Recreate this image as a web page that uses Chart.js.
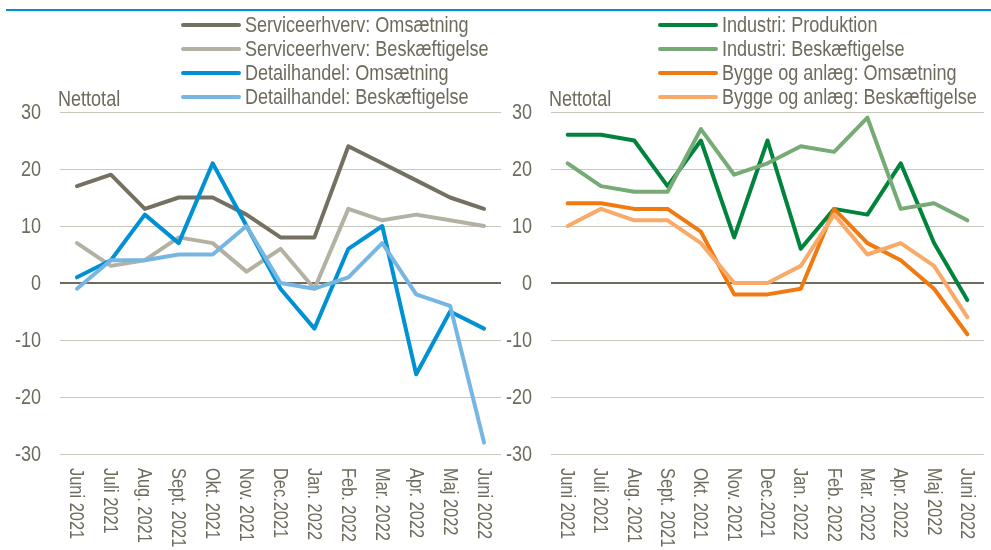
<!DOCTYPE html>
<html>
<head>
<meta charset="utf-8">
<script src="https://cdn.jsdelivr.net/npm/chart.js@4"></script>
<style>
  body { margin: 0; background: #fff; }
  #wrap { position: relative; width: 991px; height: 550px; overflow: hidden; }
  #topline { position: absolute; left: 6px; top: 9px; width: 985px; height: 2px; background: #0091d4; }
  #left { position: absolute; left: 0; top: 0; }
  #right { position: absolute; left: 505px; top: 0; }
</style>
</head>
<body>
<div id="wrap">
  <div id="topline"></div>
  <canvas id="left" width="505" height="550"></canvas>
  <canvas id="right" width="486" height="550"></canvas>
</div>
<script>
const months = ['Juni 2021', 'Juli 2021', 'Aug. 2021', 'Sept. 2021', 'Okt. 2021', 'Nov. 2021', 'Dec.2021',
  'Jan. 2022', 'Feb. 2022', 'Mar. 2022', 'Apr. 2022', 'Maj 2022', 'Juni 2022'];

const serviceOms = [17, 19, 13, 15, 15, 12, 8, 8, 24, 21, 18, 15, 13];
const serviceBesk = [7, 3, 4, 8, 7, 2, 6, -1, 13, 11, 12, 11, 10];
const detailOms = [1, 4, 12, 7, 21, 10, -1, -8, 6, 10, -16, -5, -8];
const detailBesk = [-1, 4, 4, 5, 5, 10, 0, -1, 1, 7, -2, -4, -28];

const industriProd = [26, 26, 25, 17, 25, 8, 25, 6, 13, 12, 21, 7, -3];
const industriBesk = [21, 17, 16, 16, 27, 19, 21, 24, 23, 29, 13, 14, 11];
const byggeOms = [14, 14, 13, 13, 9, -2, -2, -1, 13, 7, 4, -1, -9];
const byggeBesk = [10, 13, 11, 11, 7, 0, 0, 3, 12, 5, 7, 3, -6];

const yTicks = [-30, -20, -10, 0, 10, 20, 30];

const fontFam = '"Liberation Sans", Arial, sans-serif';
const textCol = '#6e6b5c';
const narrow = 0.82; // squeeze to look like Arial Narrow

function line(label, data, color, order) {
  return {
    label: label, data: data, borderColor: color, backgroundColor: color, order: order,
    borderWidth: 4, pointRadius: 0, tension: 0, borderJoinStyle: 'round', borderCapStyle: 'round'
  };
}

function txt(ctx, s, x, y, align, rot) {
  ctx.save();
  ctx.translate(x, y);
  if (rot) ctx.rotate(rot);
  ctx.scale(narrow, 1);
  ctx.textAlign = align;
  ctx.fillText(s, 0, 0);
  ctx.restore();
}

// legend, "Nettotal", y tick labels and rotated month labels
const extras = {
  id: 'extras',
  afterDraw(chart, args, opts) {
    const ctx = chart.ctx;
    const xs = chart.scales.x, ys = chart.scales.y;
    ctx.save();
    ctx.fillStyle = textCol;

    ctx.font = '20px ' + fontFam;
    ctx.textBaseline = 'middle';
    chart.data.labels.forEach((lab, i) => {
      txt(ctx, lab, xs.getPixelForValue(i) - 1, xs.top + 14, 'left', Math.PI / 2);
    });

    ctx.font = '22px ' + fontFam;
    yTicks.forEach(v => {
      txt(ctx, String(v), chart.chartArea.left - 19, ys.getPixelForValue(v) + 1, 'right');
    });

    ctx.textBaseline = 'alphabetic';
    txt(ctx, 'Nettotal', chart.chartArea.left - 2, 106, 'left');

    ctx.textBaseline = 'middle';
    ctx.lineCap = 'round';
    ctx.lineWidth = 4;
    chart.data.datasets.forEach((ds, i) => {
      const y = opts.top + i * 24;
      ctx.strokeStyle = ds.borderColor;
      ctx.beginPath();
      ctx.moveTo(opts.x, y);
      ctx.lineTo(opts.x + 56, y);
      ctx.stroke();
      txt(ctx, ds.label, opts.x + 62, y + 1, 'left');
    });
    ctx.restore();
  }
};

function makeChart(id, datasets, axisW, padRight, legendX) {
  return new Chart(document.getElementById(id), {
    type: 'line',
    data: { labels: months, datasets: datasets },
    plugins: [extras],
    options: {
      responsive: false,
      animation: false,
      layout: { padding: { top: 112, right: padRight, left: 0, bottom: 0 } },
      plugins: {
        legend: { display: false },
        tooltip: { enabled: false },
        extras: { x: legendX, top: 25 }
      },
      scales: {
        x: {
          offset: true,
          grid: { display: false },
          border: { display: false },
          ticks: { display: false },
          afterFit(s) { s.height = 96; }
        },
        y: {
          min: -30, max: 30,
          afterFit(s) { s.width = axisW; },
          afterBuildTicks(s) { s.ticks = yTicks.map(v => ({ value: v })); },
          border: { display: false },
          grid: {
            drawTicks: false,
            color: c => c.tick.value === 0 ? '#6e6b5c' : '#c9c6bb',
            lineWidth: c => c.tick.value === 0 ? 2 : 1
          },
          ticks: { display: false }
        }
      }
    }
  });
}

// later series drawn on top, like the original
makeChart('left', [
  line('Serviceerhverv: Omsætning', serviceOms, '#757162', 4),
  line('Serviceerhverv: Beskæftigelse', serviceBesk, '#b3b1a3', 3),
  line('Detailhandel: Omsætning', detailOms, '#0091d4', 2),
  line('Detailhandel: Beskæftigelse', detailBesk, '#76b6e3', 1)
], 60, 4, 183);

makeChart('right', [
  line('Industri: Produktion', industriProd, '#00843c', 4),
  line('Industri: Beskæftigelse', industriBesk, '#77ab75', 3),
  line('Bygge og anlæg: Omsætning', byggeOms, '#f07a10', 2),
  line('Bygge og anlæg: Beskæftigelse', byggeBesk, '#f9aa68', 1)
], 46, 7, 155);
</script>
</body>
</html>
